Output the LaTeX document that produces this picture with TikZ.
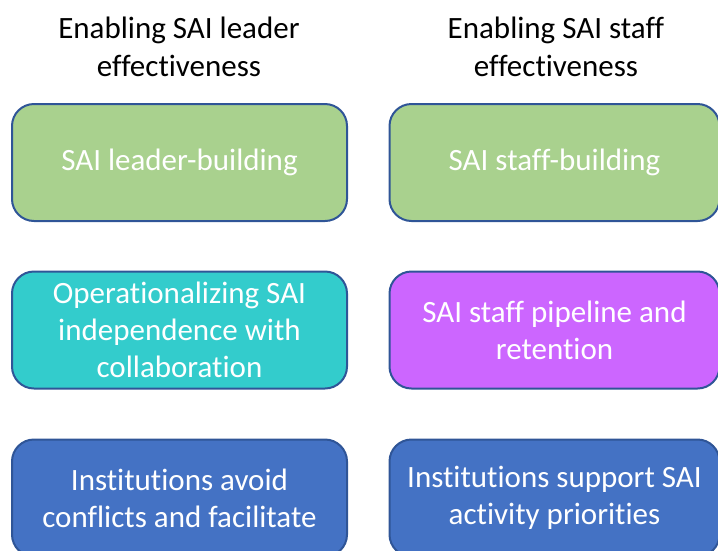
\documentclass[tikz,border=0pt]{standalone}
\usepackage{fontspec}
\setmainfont{Carlito}[Ligatures=NoCommon]
\newlength{\du}
\setlength{\du}{1pt}
\definecolor{boxborder}{rgb}{0.184, 0.333, 0.592}
\definecolor{buildgreen}{rgb}{0.663, 0.820, 0.557}
\definecolor{indepcyan}{rgb}{0.200, 0.800, 0.800}
\definecolor{pipepurple}{rgb}{0.800, 0.400, 1.000}
\definecolor{instblue}{rgb}{0.267, 0.447, 0.769}
\tikzset{
  titletext/.style={align=center, font=\fontsize{31}{38}\selectfont, text=black, inner sep=0pt},
  roundbox/.style={draw=boxborder, line width=2\du, rounded corners=22\du,
    align=center, text=white, font=\fontsize{31}{37}\selectfont,
    minimum height=117\du, inner sep=0pt},
}
\begin{document}
\begin{tikzpicture}
\pgftransformxscale{1.000000}
\pgftransformyscale{-1.000000}
\useasboundingbox (0\du,0\du) rectangle (718\du,550\du);
\clip (0\du,0\du) rectangle (718\du,550\du);
% column headings
\node[titletext] (leadertitle) at (179\du,47\du) {Enabling SAI leader\\effectiveness};
\node[titletext] (stafftitle) at (556\du,47\du) {Enabling SAI staff\\effectiveness};
% left column
\node[roundbox, fill=buildgreen, minimum width=335\du] (leaderbuild) at (179.5\du,162.5\du) {SAI leader-building};
\node[roundbox, fill=indepcyan, minimum width=335\du] (independence) at (179.5\du,330\du) {Operationalizing SAI\\independence with\\collaboration};
\node[roundbox, fill=instblue, minimum width=335\du] (avoidconflict) at (179.5\du,498\du) {Institutions avoid\\conflicts and facilitate};
% right column
\node[roundbox, fill=buildgreen, minimum width=330\du] (staffbuild) at (554.5\du,162.5\du) {SAI staff-building};
\node[roundbox, fill=pipepurple, minimum width=330\du] (pipeline) at (554.5\du,330\du) {SAI staff pipeline and\\retention};
\node[roundbox, fill=instblue, minimum width=330\du] (supportprio) at (554.5\du,498\du) {Institutions support SAI\\activity priorities};
\end{tikzpicture}
\end{document}
